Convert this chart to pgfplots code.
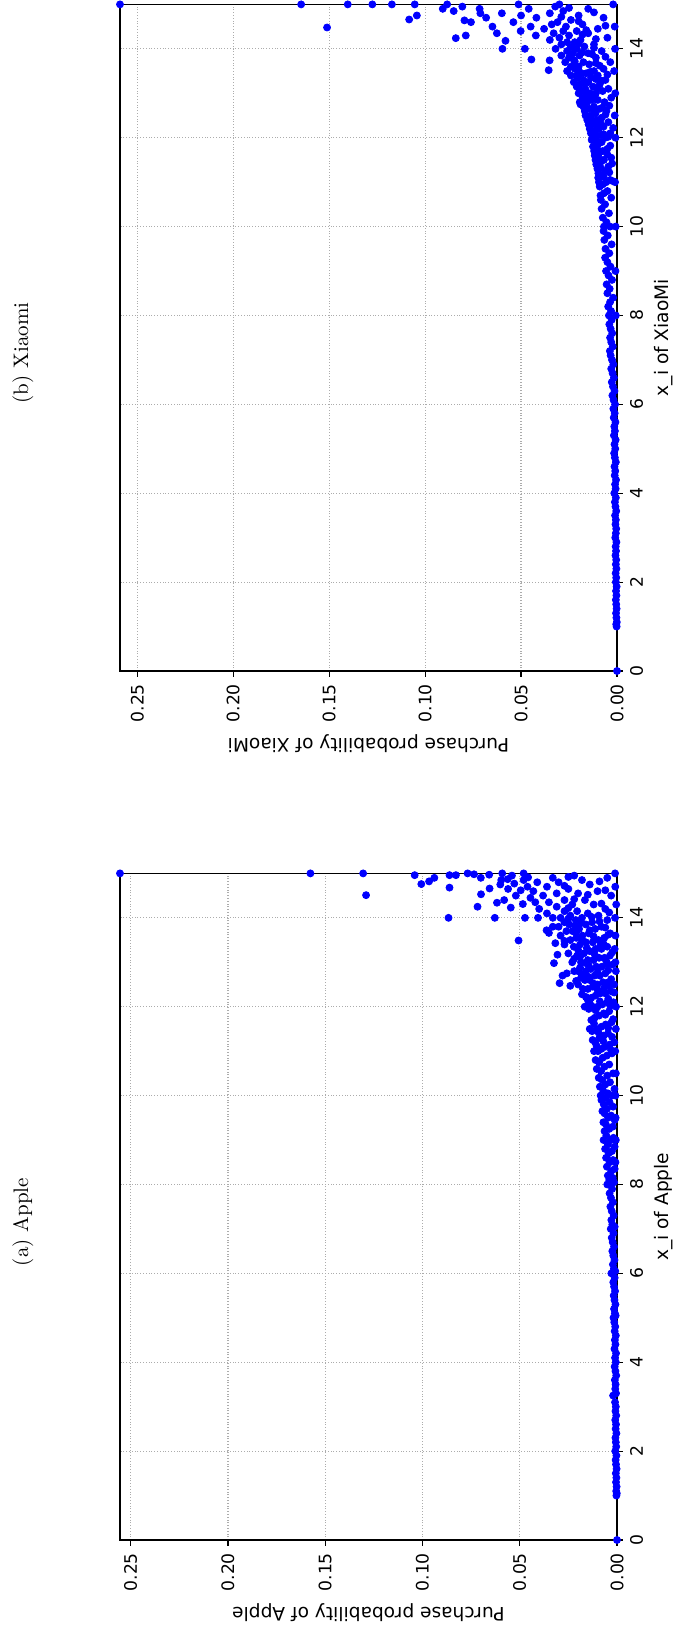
\documentclass[border=0pt]{standalone}
\usepackage{graphicx}
\usepackage{fontspec}
\usepackage{pgfplots}
\usepackage{pgfplotstable}
\pgfplotsset{compat=1.18}
\newfontfamily\dejavu{DejaVu Sans}

\pgfplotstableread{
x p
0 0
1.0 0.0003
1.05 0.0001
1.1 0.0004
1.2 0.0002
1.3 0.0005
1.4 0.0003
1.5 0.0006
1.6 0.0002
1.7 0.0005
1.8 0.0007
1.9 0.0003
2.0 0.0009
2.1 0.0004
2.2 0.0006
2.3 0.0008
2.4 0.0003
2.5 0.0007
2.6 0.0005
2.7 0.0009
2.8 0.0004
2.9 0.0008
3.0 0.0006
3.1 0.0010
3.25 0.0020
3.3 0.0005
3.4 0.0009
3.5 0.0007
3.6 0.0011
3.7 0.0004
3.8 0.0008
3.9 0.0012
4.0 0.0006
4.1 0.0010
4.2 0.0005
4.3 0.0013
4.4 0.0008
4.5 0.0011
4.6 0.0006
4.7 0.0012
4.8 0.0009
4.9 0.0014
5.0 0.0018
5.05 0.0007
5.1 0.0011
5.2 0.0015
5.3 0.0008
5.4 0.0013
5.5 0.0017
5.6 0.0010
5.7 0.0015
5.8 0.0019
5.9 0.0012
6.0 0.0029
6.05 0.0009
6.1 0.0016
6.2 0.0021
6.3 0.0013
6.4 0.0019
6.5 0.0024
6.6 0.0015
6.7 0.0022
6.8 0.0027
6.9 0.0018
7.0 0.0032
7.05 0.0012
7.1 0.0024
7.2 0.0029
7.3 0.0017
7.4 0.0027
7.5 0.0034
7.6 0.0021
7.7 0.0031
7.8 0.0038
7.9 0.0025
8.0 0.0050
8.0 0.0033
8.05 0.0015
8.1 0.0040
8.15 0.0022
8.2 0.0047
8.3 0.0030
8.35 0.0012
8.4 0.0052
8.5 0.0038
8.5 0.0008
8.55 0.0020
8.6 0.0056
8.7 0.0043
8.75 0.0026
8.8 0.0061
8.85 0.0012
8.9 0.0047
9.0 0.0069
9.0 0.0032
9.0 0.0006
9.05 0.0018
9.1 0.0055
9.2 0.0064
9.25 0.0040
9.3 0.0022
9.35 0.0057
9.4 0.0070
9.45 0.0012
9.5 0.0046
9.5 0.0007
9.55 0.0030
9.6 0.0064
9.65 0.0075
9.7 0.0052
9.75 0.0020
9.8 0.0068
9.85 0.0038
9.9 0.0080
9.95 0.0058
10.0 0.0084
10.0 0.0026
10.0 0.0008
10.05 0.0047
10.1 0.0070
10.15 0.0013
10.2 0.0088
10.25 0.0060
10.3 0.0036
10.35 0.0075
10.4 0.0094
10.45 0.0050
10.5 0.0020
10.5 0.0006
10.55 0.0082
10.6 0.0104
10.65 0.0064
10.7 0.0040
10.75 0.0092
10.8 0.0110
10.85 0.0074
10.9 0.0052
10.95 0.0026
11.0 0.0118
11.0 0.0098
11.0 0.0009
11.02 0.0030
11.05 0.0080
11.1 0.0060
11.12 0.0105
11.15 0.0036
11.2 0.0112
11.2 0.0014
11.22 0.0070
11.25 0.0125
11.3 0.0090
11.32 0.0025
11.35 0.0068
11.4 0.0046
11.42 0.0095
11.45 0.0128
11.5 0.0140
11.5 0.0105
11.5 0.0006
11.52 0.0045
11.55 0.0080
11.6 0.0058
11.62 0.0118
11.65 0.0028
11.7 0.0132
11.72 0.0020
11.75 0.0115
11.8 0.0092
11.82 0.0060
11.85 0.0068
11.9 0.0040
11.92 0.0110
11.95 0.0145
12.0 0.0166
12.0 0.0125
12.0 0.0100
12.0 0.0005
12.02 0.0035
12.05 0.0076
12.08 0.0140
12.1 0.0050
12.1 0.0018
12.12 0.0088
12.15 0.0150
12.18 0.0045
12.2 0.0132
12.22 0.0160
12.25 0.0110
12.28 0.0180
12.3 0.0086
12.3 0.0060
12.32 0.0015
12.35 0.0032
12.38 0.0100
12.4 0.0175
12.4 0.0150
12.42 0.0065
12.45 0.0125
12.47 0.0240
12.48 0.0040
12.5 0.0200
12.5 0.0100
12.5 0.0015
12.52 0.0120
12.53 0.0295
12.55 0.0072
12.55 0.0044
12.58 0.0210
12.6 0.0165
12.6 0.0140
12.62 0.0030
12.65 0.0185
12.68 0.0150
12.7 0.0280
12.7 0.0115
12.7 0.0088
12.72 0.0175
12.75 0.0258
12.75 0.0060
12.78 0.0100
12.8 0.0220
12.8 0.0200
12.8 0.0160
12.8 0.0006
12.82 0.0045
12.85 0.0135
12.88 0.0190
12.9 0.0106
12.9 0.0078
12.92 0.0145
12.95 0.0050
12.95 0.0022
12.98 0.0324
12.98 0.0160
13.0 0.0230
13.0 0.0185
13.0 0.0008
13.02 0.0055
13.05 0.0150
13.05 0.0120
13.08 0.0220
13.1 0.0092
13.1 0.0064
13.12 0.0190
13.15 0.0036
13.15 0.0205
13.17 0.0306
13.18 0.0115
13.2 0.0250
13.2 0.0170
13.22 0.0025
13.25 0.0140
13.28 0.0200
13.3 0.0110
13.3 0.0080
13.3 0.0012
13.32 0.0155
13.35 0.0222
13.35 0.0050
13.38 0.0085
13.43 0.0317
13.4 0.0270
13.4 0.0190
13.42 0.0070
13.45 0.0160
13.45 0.0125
13.48 0.0270
13.49 0.0506
13.5 0.0240
13.5 0.0095
13.52 0.0180
13.55 0.0210
13.55 0.0065
13.58 0.0120
13.6 0.0290
13.6 0.0178
13.6 0.0008
13.62 0.0045
13.65 0.0145
13.65 0.0035
13.66 0.0350
13.68 0.0210
13.72 0.0362
13.72 0.0140
13.7 0.0260
13.7 0.0228
13.75 0.0112
13.75 0.0195
13.78 0.0060
13.8 0.0330
13.8 0.0300
13.8 0.0080
13.82 0.0215
13.85 0.0245
13.85 0.0160
13.88 0.0185
13.9 0.0270
13.9 0.0128
13.92 0.0090
13.95 0.0212
13.95 0.0050
13.98 0.0250
14.0 0.0866
14.0 0.0628
14.0 0.0473
14.0 0.0406
14.0 0.0330
14.0 0.0290
14.0 0.0180
14.0 0.0010
14.02 0.0130
14.05 0.0240
14.05 0.0095
14.1 0.0360
14.1 0.0150
14.12 0.0040
14.15 0.0270
14.15 0.0205
14.2 0.0400
14.2 0.0060
14.22 0.0250
14.25 0.0717
14.23 0.0546
14.25 0.0310
14.34 0.0617
14.31 0.0484
14.3 0.0230
14.3 0.0120
14.3 0.0004
14.32 0.0080
14.35 0.0420
14.35 0.0350
14.4 0.0580
14.4 0.0270
14.4 0.0165
14.42 0.0220
14.45 0.0445
14.51 0.1290
14.53 0.0699
14.5 0.0520
14.5 0.0380
14.5 0.0030
14.52 0.0150
14.55 0.0310
14.55 0.0200
14.66 0.0655
14.62 0.0495
14.6 0.0430
14.6 0.0100
14.62 0.0060
14.65 0.0560
14.65 0.0250
14.68 0.0861
14.77 0.0528
14.7 0.0460
14.7 0.0360
14.7 0.0009
14.72 0.0270
14.76 0.1006
14.75 0.0600
14.75 0.0140
14.82 0.0966
14.85 0.0595
14.87 0.0562
14.8 0.0410
14.8 0.0300
14.82 0.0090
14.85 0.0480
14.85 0.0180
14.9 0.0939
14.9 0.0700
14.91 0.0457
14.9 0.0330
14.9 0.0050
14.92 0.0250
14.95 0.0540
14.95 0.0220
15.0 0.1576
15.0 0.1305
14.96 0.1040
14.96 0.0861
14.96 0.0828
15.0 0.0768
14.98 0.0735
14.97 0.0657
15.0 0.0590
15.0 0.0480
15.0 0.0010
15.0 0.2555
}\dataA

\pgfplotstableread{
x p
0 0
1.0 0.0002
1.05 0.0004
1.1 0.0001
1.2 0.0003
1.3 0.0005
1.4 0.0002
1.5 0.0004
1.6 0.0006
1.7 0.0003
1.8 0.0005
1.9 0.0002
2.0 0.0006
2.1 0.0004
2.2 0.0007
2.3 0.0003
2.4 0.0006
2.5 0.0004
2.6 0.0008
2.7 0.0005
2.8 0.0007
2.9 0.0003
3.0 0.0009
3.1 0.0006
3.2 0.0004
3.3 0.0008
3.4 0.0006
3.5 0.0010
3.6 0.0004
3.7 0.0008
3.8 0.0011
3.9 0.0006
4.0 0.0014
4.1 0.0007
4.2 0.0010
4.3 0.0005
4.4 0.0012
4.5 0.0009
4.6 0.0013
4.7 0.0006
4.8 0.0011
4.9 0.0015
5.0 0.0009
5.1 0.0013
5.2 0.0007
5.3 0.0016
5.4 0.0011
5.5 0.0014
5.6 0.0008
5.7 0.0017
5.8 0.0012
5.9 0.0019
6.0 0.0010
6.1 0.0018
6.2 0.0024
6.3 0.0013
6.4 0.0021
6.5 0.0027
6.6 0.0016
6.7 0.0023
6.8 0.0030
6.9 0.0019
7.0 0.0026
7.1 0.0033
7.2 0.0037
7.3 0.0022
7.4 0.0030
7.5 0.0036
7.6 0.0025
7.7 0.0033
7.8 0.0040
7.9 0.0028
8.0 0.0042
8.0 0.0006
8.1 0.0031
8.2 0.0046
8.3 0.0036
8.4 0.0020
8.5 0.0050
8.6 0.0038
8.7 0.0054
8.8 0.0026
8.9 0.0044
9.0 0.0057
9.0 0.0008
9.1 0.0034
9.2 0.0050
9.3 0.0062
9.4 0.0040
9.5 0.0060
9.6 0.0028
9.7 0.0066
9.8 0.0048
9.9 0.0070
10.0 0.0068
10.0 0.0036
10.0 0.0007
10.1 0.0055
10.2 0.0074
10.3 0.0042
10.4 0.0080
10.5 0.0062
10.6 0.0084
10.65 0.0030
10.7 0.0086
10.75 0.0068
10.8 0.0050
10.9 0.0090
10.95 0.0074
11.0 0.0094
11.0 0.0056
11.0 0.0010
11.02 0.0020
11.05 0.0036
11.1 0.0098
11.12 0.0070
11.15 0.0080
11.2 0.0097
11.22 0.0040
11.25 0.0062
11.3 0.0102
11.32 0.0085
11.35 0.0045
11.4 0.0108
11.42 0.0025
11.45 0.0086
11.5 0.0112
11.5 0.0068
11.52 0.0090
11.55 0.0030
11.6 0.0116
11.62 0.0050
11.65 0.0094
11.7 0.0119
11.7 0.0074
11.72 0.0100
11.75 0.0050
11.8 0.0125
11.82 0.0035
11.85 0.0100
11.9 0.0080
11.92 0.0110
11.95 0.0132
12.0 0.0128
12.0 0.0110
12.0 0.0060
12.0 0.0008
12.02 0.0045
12.05 0.0088
12.08 0.0070
12.1 0.0136
12.1 0.0035
12.12 0.0120
12.15 0.0115
12.2 0.0142
12.2 0.0095
12.22 0.0020
12.25 0.0070
12.28 0.0105
12.3 0.0148
12.3 0.0125
12.32 0.0085
12.35 0.0045
12.4 0.0155
12.4 0.0105
12.42 0.0135
12.45 0.0080
12.48 0.0150
12.5 0.0164
12.5 0.0135
12.5 0.0012
12.52 0.0060
12.55 0.0112
12.6 0.0168
12.6 0.0055
12.62 0.0120
12.65 0.0145
12.65 0.0090
12.68 0.0075
12.7 0.0175
12.7 0.0120
12.72 0.0040
12.75 0.0190
12.8 0.0194
12.8 0.0155
12.8 0.0065
12.82 0.0175
12.85 0.0130
12.85 0.0100
12.88 0.0150
12.9 0.0178
12.9 0.0030
12.92 0.0125
12.95 0.0160
13.0 0.0200
13.0 0.0140
13.0 0.0110
13.0 0.0009
13.02 0.0160
13.05 0.0075
13.05 0.0185
13.08 0.0195
13.1 0.0165
13.1 0.0045
13.12 0.0100
13.15 0.0210
13.15 0.0125
13.2 0.0195
13.2 0.0090
13.22 0.0170
13.25 0.0150
13.25 0.0225
13.28 0.0080
13.3 0.0175
13.3 0.0060
13.32 0.0110
13.35 0.0135
13.35 0.0205
13.4 0.0210
13.4 0.0240
13.4 0.0100
13.42 0.0050
13.45 0.0160
13.45 0.0185
13.48 0.0140
13.52 0.0356
13.52 0.0200
13.5 0.0260
13.5 0.0120
13.5 0.0015
13.55 0.0220
13.55 0.0070
13.6 0.0200
13.6 0.0240
13.62 0.0090
13.65 0.0145
13.68 0.0110
13.74 0.0351
13.72 0.0220
13.7 0.0270
13.7 0.0175
13.7 0.0035
13.76 0.0446
13.75 0.0225
13.8 0.0250
13.8 0.0110
13.82 0.0060
13.85 0.0195
13.85 0.0290
13.88 0.0130
13.9 0.0230
13.9 0.0150
13.92 0.0180
13.95 0.0260
13.95 0.0080
14.0 0.0597
14.0 0.0480
14.0 0.0320
14.0 0.0210
14.0 0.0010
14.02 0.0120
14.05 0.0240
14.05 0.0170
14.1 0.0290
14.1 0.0120
14.12 0.0200
14.15 0.0260
14.15 0.0220
14.24 0.0840
14.18 0.0581
14.2 0.0350
14.2 0.0190
14.22 0.0110
14.25 0.0300
14.25 0.0050
14.3 0.0788
14.3 0.0423
14.3 0.0250
14.32 0.0180
14.35 0.0626
14.35 0.0330
14.35 0.0150
14.4 0.0502
14.4 0.0280
14.4 0.0210
14.42 0.0160
14.45 0.0380
14.45 0.0100
14.48 0.1511
14.5 0.0649
14.5 0.0450
14.5 0.0266
14.5 0.0012
14.52 0.0060
14.55 0.0340
14.55 0.0180
14.6 0.0761
14.6 0.0540
14.6 0.0310
14.62 0.0200
14.66 0.1083
14.64 0.0795
14.65 0.0240
14.7 0.0682
14.7 0.0420
14.7 0.0070
14.72 0.0290
14.75 0.1043
14.75 0.0500
14.75 0.0200
14.8 0.0712
14.8 0.0600
14.8 0.0350
14.82 0.0120
14.85 0.0851
14.85 0.0280
14.9 0.0908
14.9 0.0716
14.9 0.0460
14.9 0.0150
14.92 0.0250
14.95 0.0806
14.95 0.0322
15.0 0.1646
15.0 0.1403
15.0 0.1275
15.0 0.1173
15.0 0.1054
15.0 0.0885
15.0 0.0513
15.0 0.0300
15.0 0.0020
15.0 0.2590
}\dataB

\pgfplotsset{
  probax/.style={
    scale only axis,
    width=333.3pt, height=248.5pt,
    xmin=0, xmax=15, ymin=0,
    xtick={0,2,4,6,8,10,12,14},
    ytick={0,0.05,0.1,0.15,0.2,0.25},
    scaled y ticks=false,
    yticklabel style={/pgf/number format/.cd, fixed, fixed zerofill, precision=2},
    /pgf/number format/assume math mode=true,
    tick align=outside, major tick length=3pt,
    tick style={black, line width=0.6pt},
    xtick pos=left, ytick pos=left,
    grid=major,
    major grid style={densely dotted, color=gray!65, line width=0.6pt},
    axis line style={black, line width=0.7pt},
    ticklabel style={font=\dejavu\fontsize{8.6}{10}\selectfont},
    label style={font=\dejavu\fontsize{9.3}{11}\selectfont},
    xlabel style={at={(axis description cs:0.5,-0.1046)}, anchor=base},
    ylabel style={at={(axis description cs:-0.102,0.5)}, anchor=base, rotate=0},
  }
}

\begin{document}
\rotatebox{90}{%
\begin{tikzpicture}
\begin{axis}[probax, at={(44.5pt,30pt)}, anchor=south west, ymax=0.2555,
  xlabel={x\_i of Apple}, ylabel={Purchase probability of Apple}]
\addplot[only marks, mark=*, mark size=1.75pt, color=blue, mark options={draw=blue, fill=blue}] table[x=x, y=p] {\dataA};
\end{axis}
\begin{axis}[probax, at={(479pt,30pt)}, anchor=south west, ymax=0.259,
  xlabel={x\_i of XiaoMi}, ylabel={Purchase probability of XiaoMi}]
\addplot[only marks, mark=*, mark size=1.75pt, color=blue, mark options={draw=blue, fill=blue}] table[x=x, y=p] {\dataB};
\end{axis}
\node[font=\fontsize{10.5}{12.6}\selectfont] at (203.5pt,327pt) {(a) Apple};
\node[font=\fontsize{10.5}{12.6}\selectfont] at (638pt,327pt) {(b) Xiaomi};
\pgfresetboundingbox
\useasboundingbox (0pt,0pt) rectangle (814.5pt,338.5pt);
\end{tikzpicture}}
\end{document}
